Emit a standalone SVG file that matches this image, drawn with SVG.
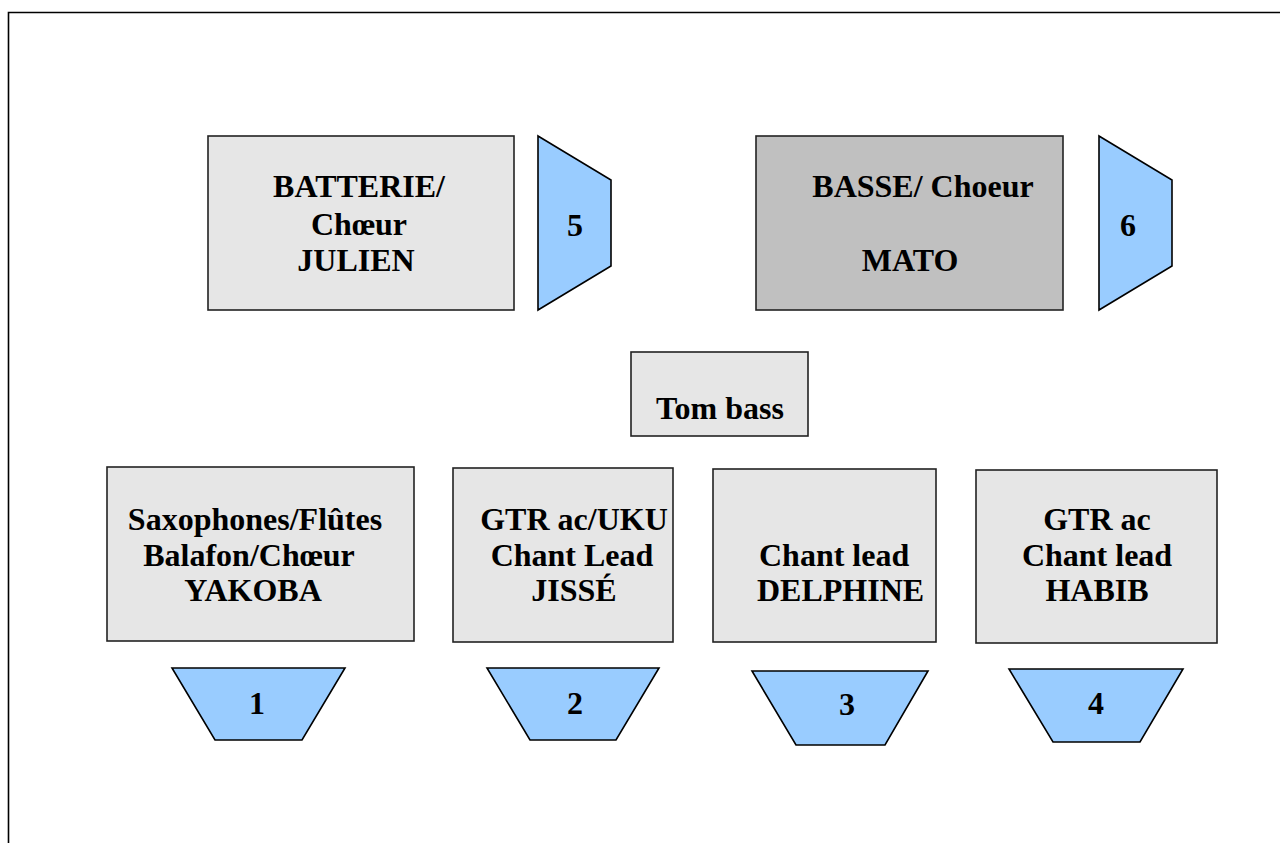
<svg xmlns="http://www.w3.org/2000/svg" width="1280" height="843" viewBox="0 0 1280 843">
<style>
text{font-family:"Liberation Serif","Times New Roman",serif;font-weight:bold;font-size:32px;fill:#000;text-anchor:middle}
.box{fill:#e6e6e6;stroke:#222;stroke-width:1.6}
.dark{fill:#c0c0c0}
.trap{fill:#99ccff;stroke:#000;stroke-width:1.6;stroke-linejoin:miter}
</style>
<rect width="1280" height="843" fill="#fff"/>
<path d="M8.5,843 V12.5 H1280" fill="none" stroke="#000" stroke-width="1.6"/>

<g id="batterie">
<rect class="box" x="208" y="136" width="306" height="174"/>
<text x="359" y="197">BATTERIE/</text>
<text x="359" y="235">Chœur</text>
<text x="356" y="271">JULIEN</text>
</g>
<g id="wedge5">
<polygon class="trap" points="538,136 611,180 611,266 538,310"/>
<text x="575" y="236">5</text>
</g>

<g id="basse">
<rect class="box dark" x="756" y="136" width="307" height="174"/>
<text x="923" y="197">BASSE/ Choeur</text>
<text x="910" y="271">MATO</text>
</g>
<g id="wedge6">
<polygon class="trap" points="1099,136 1172,180 1172,266 1099,310"/>
<text x="1128" y="236">6</text>
</g>

<g id="tombass">
<rect class="box" x="631" y="352" width="177" height="84"/>
<text x="720" y="419">Tom bass</text>
</g>

<g id="yakoba">
<rect class="box" x="107" y="467" width="307" height="174"/>
<text x="255" y="530">Saxophones/Flûtes</text>
<text x="249" y="566">Balafon/Chœur</text>
<text x="253" y="601">YAKOBA</text>
</g>
<g id="jisse">
<rect class="box" x="453" y="468" width="220" height="174"/>
<text x="574" y="530">GTR ac/UKU</text>
<text x="572" y="566">Chant Lead</text>
<text x="574" y="601">JISSÉ</text>
</g>
<g id="delphine">
<rect class="box" x="713" y="469" width="223" height="173"/>
<text x="759" y="566" style="text-anchor:start">Chant lead</text>
<text x="757" y="601" style="text-anchor:start">DELPHINE</text>
</g>
<g id="habib">
<rect class="box" x="976" y="470" width="241" height="173"/>
<text x="1097" y="530">GTR ac</text>
<text x="1097" y="566">Chant lead</text>
<text x="1097" y="601">HABIB</text>
</g>

<g id="wedge1">
<polygon class="trap" points="172,668 345,668 302,740 215,740"/>
<text x="257" y="714">1</text>
</g>
<g id="wedge2">
<polygon class="trap" points="487,668 659,668 616,740 530,740"/>
<text x="575" y="714">2</text>
</g>
<g id="wedge3">
<polygon class="trap" points="752,671 928,671 885,745 796,745"/>
<text x="847" y="715">3</text>
</g>
<g id="wedge4">
<polygon class="trap" points="1009,669 1183,669 1140,742 1053,742"/>
<text x="1096" y="714">4</text>
</g>
<g id="connectors"></g>
</svg>
